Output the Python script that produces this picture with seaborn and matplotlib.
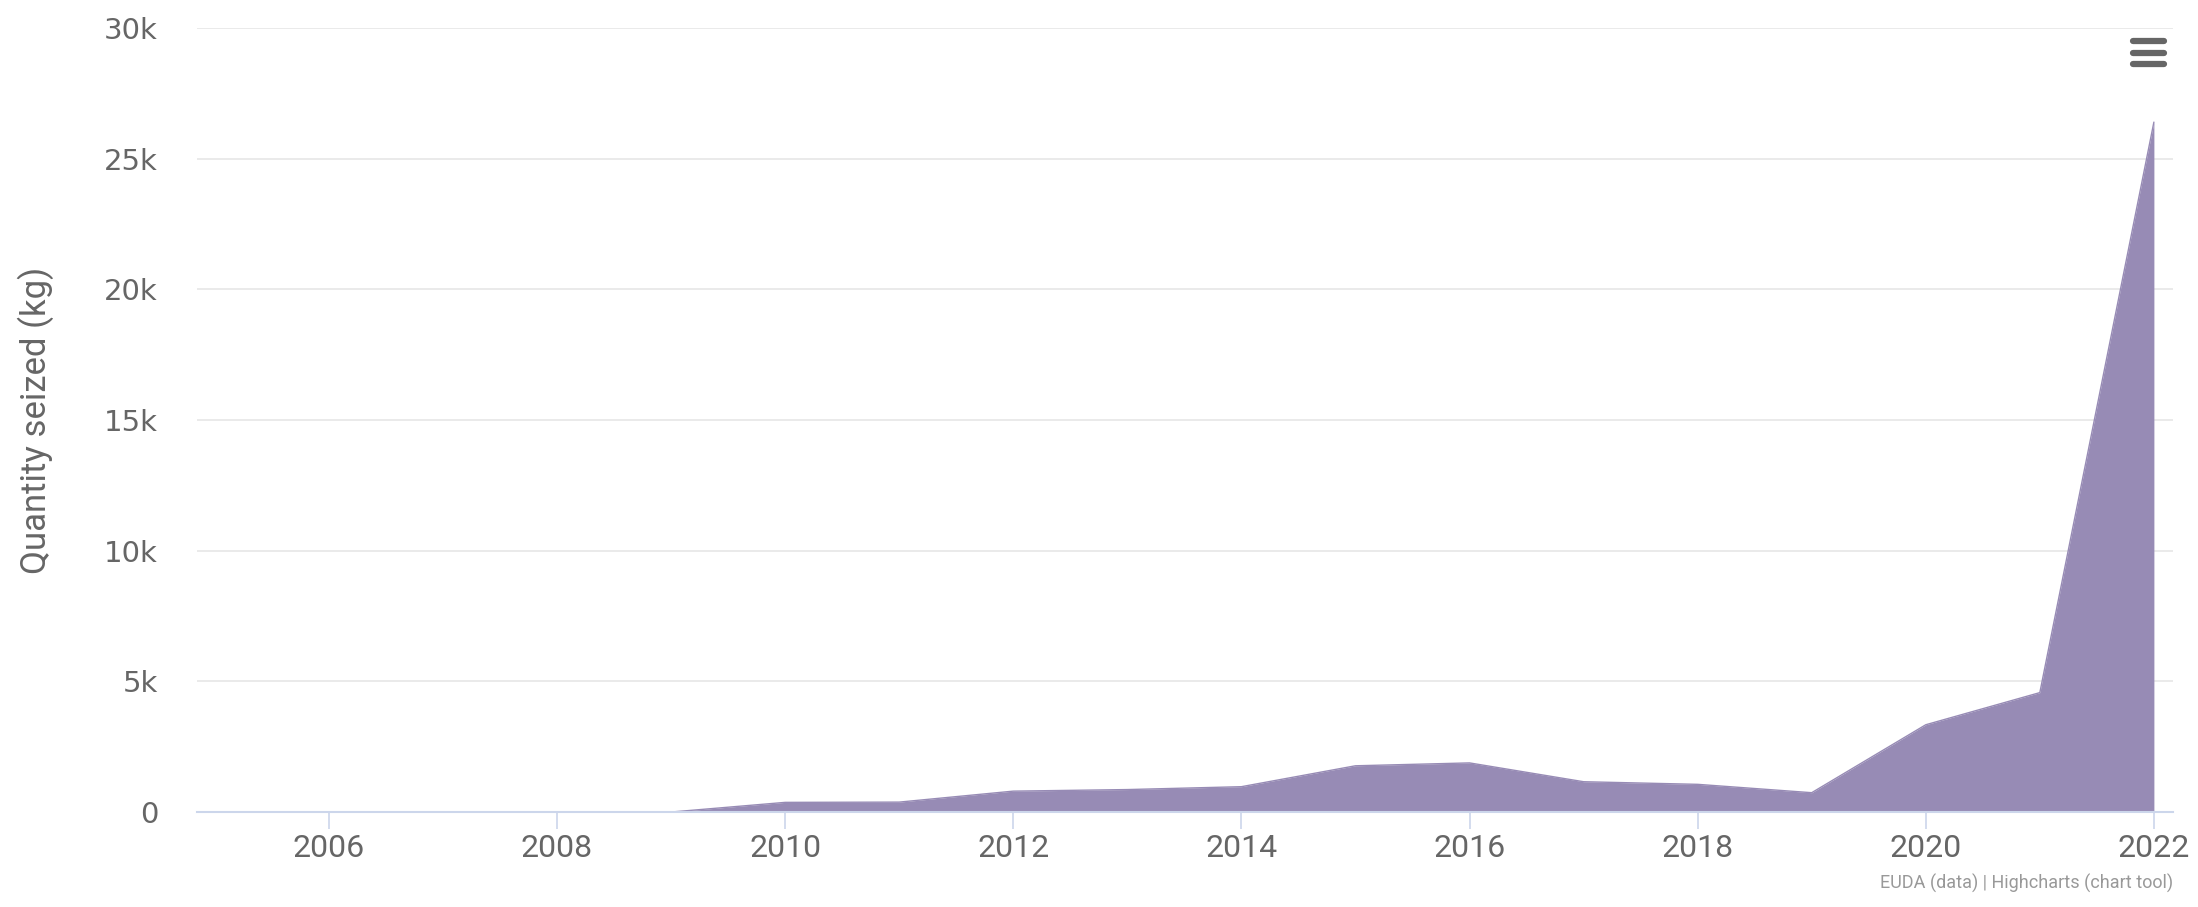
import matplotlib
matplotlib.use("Agg")
import matplotlib.pyplot as plt
import numpy as np
import pandas as pd
import seaborn as sns
from matplotlib.lines import Line2D
from matplotlib import font_manager

years = [2005, 2006, 2007, 2008, 2009, 2010, 2011, 2012, 2013, 2014,
         2015, 2016, 2017, 2018, 2019, 2020, 2021, 2022]
seized_kg = [0, 0, 0, 0, 0, 370, 380, 800, 860, 970,
             1770, 1880, 1160, 1060, 740, 3340, 4570, 26400]

y_ticks = [0, 5000, 10000, 15000, 20000, 25000, 30000]
y_tick_labels = ["0", "5k", "10k", "15k", "20k", "25k", "30k"]
x_ticks = [2006, 2008, 2010, 2012, 2014, 2016, 2018, 2020, 2022]

df = pd.DataFrame({"Year": years, "Quantity seized (kg)": seized_kg})

sns.set_theme(style="white")
names = {f.name for f in font_manager.fontManager.ttflist}
narrow = "Liberation Sans Narrow" if "Liberation Sans Narrow" in names else "Roboto"
plt.rcParams["font.family"] = ["DejaVu Sans"]

fill_color = "#978bb5"
text_color = "#666666"

fig = plt.figure(figsize=(21.98, 9.07), dpi=100)
ax = fig.add_axes([0.0896, 0.1047, 0.8990, 0.8644])

sns.lineplot(data=df, x="Year", y="Quantity seized (kg)", ax=ax, color=fill_color, linewidth=1)
ax.fill_between(df["Year"], df["Quantity seized (kg)"], color=fill_color, linewidth=0)

ax.set_xlim(2004.843, 2022.167)
ax.set_ylim(0, 30000)
ax.set_yticks(y_ticks)
ax.set_yticklabels(y_tick_labels, fontsize=21, color=text_color)
ax.set_xticks(x_ticks)
ax.set_xticklabels([str(x) for x in x_ticks], fontsize=23, color=text_color, family=narrow)

ax.yaxis.grid(True, color="#e6e6e6", linewidth=1.2)
ax.xaxis.grid(False)
for side in ["top", "right", "left"]:
    ax.spines[side].set_visible(False)
ax.spines["bottom"].set_color("#ccd6eb")
ax.spines["bottom"].set_linewidth(1.5)
ax.tick_params(axis="x", length=12, width=1.2, color="#ccd6eb", pad=4, bottom=True)
ax.tick_params(axis="y", length=0, pad=28)
ax.set_xlabel("")
ax.set_ylabel("Quantity seized (kg)", fontsize=25, color=text_color, family=narrow, labelpad=36)

# credits
fig.text(0.9886, 0.015, "EUDA (data) | Highcharts (chart tool)", ha="right", va="bottom",
         fontsize=13, color="#999999", family=narrow)

# menu icon
for yy in [0.955, 0.942, 0.929]:
    fig.add_artist(Line2D([0.9705, 0.9845], [yy, yy], transform=fig.transFigure,
                          color="#666666", linewidth=4.5, solid_capstyle="round"))

fig.savefig("out.png", dpi=100)
